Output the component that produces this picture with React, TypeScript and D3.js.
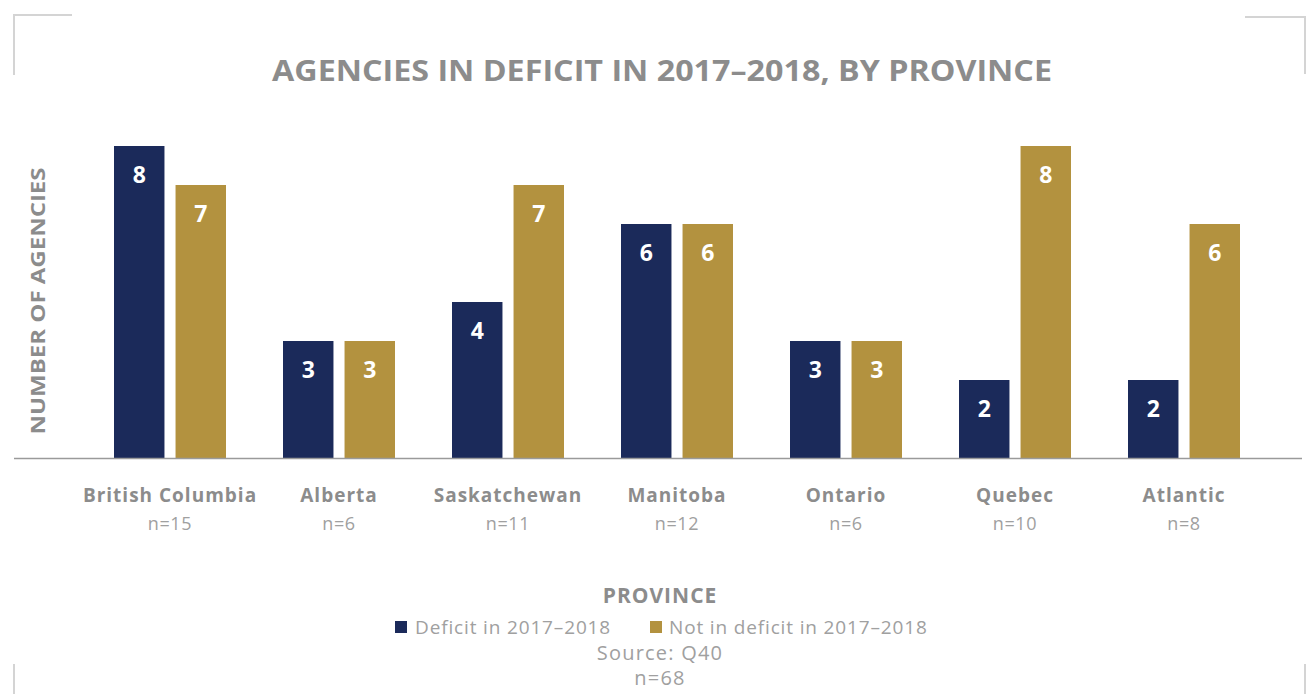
import React from "react";
import * as d3 from "d3";

const provinces = ["British Columbia", "Alberta", "Saskatchewan", "Manitoba", "Ontario", "Quebec", "Atlantic"];
const sampleSizes = ["n=15", "n=6", "n=11", "n=12", "n=6", "n=10", "n=8"];
const deficit = [8, 3, 4, 6, 3, 2, 2];
const notDeficit = [7, 3, 7, 6, 3, 8, 6];
const seriesNames = ["Deficit in 2017–2018", "Not in deficit in 2017–2018"];
const seriesColors = ["#1b2a5a", "#b3923f"];

const W = 1312;
const H = 694;
const FONT = "'Open Sans', 'Liberation Sans', Arial, sans-serif";
const GRAY = "#8c8c8c";
const LIGHT = "#a0a0a0";

export default function App() {
  const x = d3.scaleBand<string>().domain(provinces).range([85.5, 1268.5]).padding(0);
  const inner = d3.scaleBand<string>().domain(["d", "n"]).range([0, 112]).paddingInner(0.18);
  const y = d3.scaleLinear().domain([0, 8]).range([458, 146]);
  const bw = inner.bandwidth();

  const bars: { key: string; x: number; v: number; color: string }[] = [];
  provinces.forEach((p, i) => {
    const cx = (x(p) as number) + x.bandwidth() / 2;
    bars.push({ key: p + "d", x: cx - 56 + (inner("d") as number), v: deficit[i], color: seriesColors[0] });
    bars.push({ key: p + "n", x: cx - 56 + (inner("n") as number), v: notDeficit[i], color: seriesColors[1] });
  });

  const corner = "#d4d4d4";

  return (
    <svg width={W} height={H} style={{ position: "absolute", left: 0, top: 0, background: "#fff" }}>
      <rect x={0} y={0} width={W} height={H} fill="#fff" />
      <path d="M14,75 L14,15 L72,15" fill="none" stroke={corner} strokeWidth={2} />
      <path d="M1245,17 L1305,17 L1305,74" fill="none" stroke={corner} strokeWidth={2} />
      <path d="M14,664 L14,694" fill="none" stroke={corner} strokeWidth={2} />
      <path d="M1305,664 L1305,694" fill="none" stroke={corner} strokeWidth={2} />

      <text x={662} y={81} textAnchor="middle" fontFamily={FONT} fontWeight="bold" fontSize={28} fill={GRAY}
        textLength={780} lengthAdjust="spacingAndGlyphs">
        AGENCIES IN DEFICIT IN 2017–2018, BY PROVINCE
      </text>

      <text transform="translate(45,301) rotate(-90)" textAnchor="middle" fontFamily={FONT} fontWeight="bold" fontSize={20} fill={GRAY}
        textLength={267} lengthAdjust="spacingAndGlyphs">
        NUMBER OF AGENCIES
      </text>

      {bars.map((b) => (
        <g key={b.key}>
          <rect x={b.x} y={y(b.v)} width={bw} height={y(0) - y(b.v)} fill={b.color} />
          <text x={b.x + bw / 2} y={y(b.v) + 37} textAnchor="middle" fontFamily={FONT} fontWeight="bold" fontSize={23} fill="#fff">
            {b.v}
          </text>
        </g>
      ))}

      <line x1={14} x2={1302} y1={458.5} y2={458.5} stroke="#9a9a9a" strokeWidth={1.5} />

      {provinces.map((p, i) => {
        const cx = (x(p) as number) + x.bandwidth() / 2;
        return (
          <g key={p}>
            <text x={cx} y={502} textAnchor="middle" fontFamily={FONT} fontWeight="bold" fontSize={19} letterSpacing={1} fill={GRAY}>
              {p}
            </text>
            <text x={cx} y={530} textAnchor="middle" fontFamily={FONT} fontSize={18} letterSpacing={0.6} fill={LIGHT}>
              {sampleSizes[i]}
            </text>
          </g>
        );
      })}

      <text x={660} y={603} textAnchor="middle" fontFamily={FONT} fontWeight="bold" fontSize={21} letterSpacing={1} fill={GRAY}>
        PROVINCE
      </text>

      <rect x={395} y={621} width={12} height={12} fill={seriesColors[0]} />
      <text x={415} y={634} fontFamily={FONT} fontSize={19} letterSpacing={0.85} fill={LIGHT}>{seriesNames[0]}</text>
      <rect x={650} y={621} width={12} height={12} fill={seriesColors[1]} />
      <text x={669} y={634} fontFamily={FONT} fontSize={19} letterSpacing={0.85} fill={LIGHT}>{seriesNames[1]}</text>

      <text x={660} y={660} textAnchor="middle" fontFamily={FONT} fontSize={20} letterSpacing={1.2} fill={LIGHT}>Source: Q40</text>
      <text x={660} y={685} textAnchor="middle" fontFamily={FONT} fontSize={20} letterSpacing={1.2} fill={LIGHT}>n=68</text>
    </svg>
  );
}
